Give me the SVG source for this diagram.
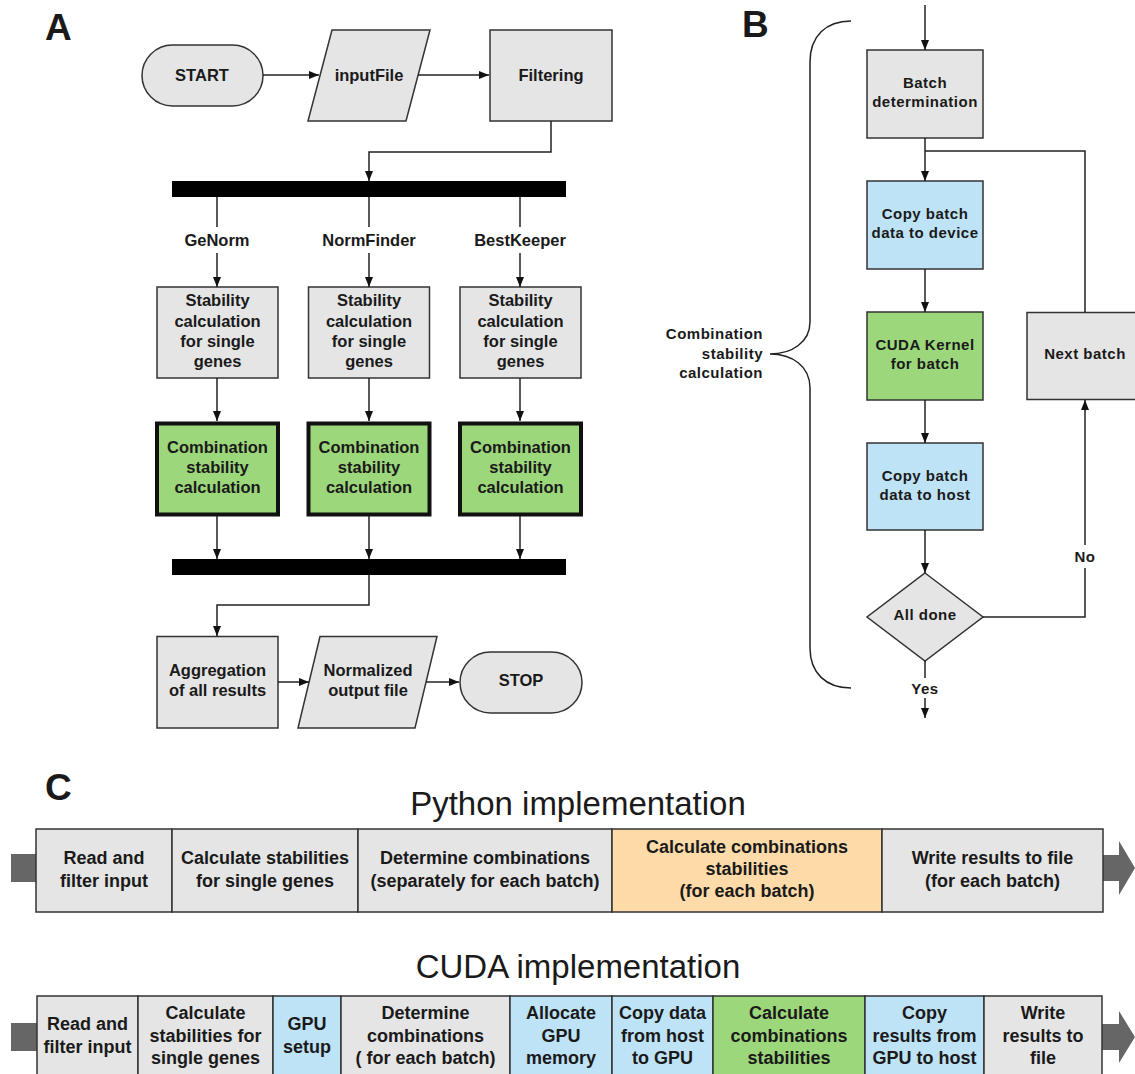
<svg xmlns="http://www.w3.org/2000/svg" width="1135" height="1074" viewBox="0 0 1135 1074">
<defs>
<marker id="ah" viewBox="0 0 10 8" refX="10" refY="4" markerWidth="10" markerHeight="8" markerUnits="userSpaceOnUse" orient="auto">
<path d="M0,0 L10,4 L0,8 z" fill="#111"/>
</marker>
<style>
text{font-family:"Liberation Sans",Arial,sans-serif;fill:#1a1a1a}
.a{font-size:16.5px;font-weight:bold;text-anchor:middle}
.b{font-size:15px;font-weight:bold;text-anchor:middle;letter-spacing:0.5px}
.c{font-size:18px;font-weight:bold;text-anchor:middle}
.big{font-size:37px;font-weight:bold}
.title{font-size:33px;text-anchor:middle}
.gray{fill:#e5e5e5;stroke:#333;stroke-width:1.5}
.blue{fill:#bfe3f6;stroke:#333;stroke-width:1.5}
.green{fill:#9dd77b;stroke:#333;stroke-width:1.5}
.orange{fill:#ffdba9;stroke:#333;stroke-width:1.5}
.thick{fill:#9dd77b;stroke:#111;stroke-width:4}
.bar{fill:#000}
.ln{fill:none;stroke:#222;stroke-width:1.5}
.arr{fill:none;stroke:#222;stroke-width:1.5;marker-end:url(#ah)}
.dk{fill:#666}
</style>
</defs>
<rect width="1135" height="1074" fill="#fff"/>

<!-- Panel labels -->
<text class="big" x="45" y="40">A</text>
<text class="big" x="742" y="37">B</text>
<text class="big" x="45" y="800">C</text>

<!-- ============ Panel A ============ -->
<g id="start"><rect class="gray" x="142" y="45" width="121" height="61" rx="30.5"/><text class="a" x="202" y="81">START</text></g>
<g id="inputFile"><polygon class="gray" points="332,30 430,30 406,121 308,121"/><text class="a" x="369" y="81">inputFile</text></g>
<g id="filtering"><rect class="gray" x="490" y="30" width="122" height="91"/><text class="a" x="551" y="81">Filtering</text></g>
<g id="fork"><rect class="bar" x="172" y="181" width="394" height="16"/></g>
<g id="label-genorm"><text class="a" x="217" y="246">GeNorm</text></g>
<g id="label-normfinder"><text class="a" x="369" y="246">NormFinder</text></g>
<g id="label-bestkeeper"><text class="a" x="520" y="246">BestKeeper</text></g>
<g id="stab1"><rect class="gray" x="157" y="287" width="121" height="91"/>
<text class="a" x="217.5" y="306">Stability</text><text class="a" x="217.5" y="326.5">calculation</text><text class="a" x="217.5" y="346.5">for single</text><text class="a" x="217.5" y="367">genes</text></g>
<g id="stab2"><rect class="gray" x="308.5" y="287" width="121" height="91"/>
<text class="a" x="369" y="306">Stability</text><text class="a" x="369" y="326.5">calculation</text><text class="a" x="369" y="346.5">for single</text><text class="a" x="369" y="367">genes</text></g>
<g id="stab3"><rect class="gray" x="460" y="287" width="121" height="91"/>
<text class="a" x="520.5" y="306">Stability</text><text class="a" x="520.5" y="326.5">calculation</text><text class="a" x="520.5" y="346.5">for single</text><text class="a" x="520.5" y="367">genes</text></g>
<g id="comb1"><rect class="thick" x="157" y="423.5" width="121" height="91"/>
<text class="a" x="217.5" y="452.5">Combination</text><text class="a" x="217.5" y="472.5">stability</text><text class="a" x="217.5" y="493">calculation</text></g>
<g id="comb2"><rect class="thick" x="308.5" y="423.5" width="121" height="91"/>
<text class="a" x="369" y="452.5">Combination</text><text class="a" x="369" y="472.5">stability</text><text class="a" x="369" y="493">calculation</text></g>
<g id="comb3"><rect class="thick" x="460" y="423.5" width="121" height="91"/>
<text class="a" x="520.5" y="452.5">Combination</text><text class="a" x="520.5" y="472.5">stability</text><text class="a" x="520.5" y="493">calculation</text></g>
<g id="join"><rect class="bar" x="172" y="559" width="394" height="16"/></g>
<g id="aggregation"><rect class="gray" x="157" y="636.5" width="121" height="91.5"/>
<text class="a" x="217.5" y="676">Aggregation</text><text class="a" x="217.5" y="696">of all results</text></g>
<g id="normalized"><polygon class="gray" points="320,636.5 437,636.5 415,728 298,728"/>
<text class="a" x="368" y="676">Normalized</text><text class="a" x="368" y="696">output file</text></g>
<g id="stop"><rect class="gray" x="460" y="652" width="122" height="61" rx="30.5"/><text class="a" x="521" y="685.5">STOP</text></g>

<!-- ============ Panel B ============ -->
<g id="brace"><path class="ln" d="M851,21 C826,21 810,36 810,62 V322 C810,342 792,354 770,354 C792,354 810,366 810,388 V648 C810,673 826,688 851,688"/>
<text class="b" style="text-anchor:end" x="763" y="339">Combination</text>
<text class="b" style="text-anchor:end" x="763" y="358.5">stability</text>
<text class="b" style="text-anchor:end" x="763" y="378">calculation</text></g>
<g id="batch"><rect class="gray" x="867" y="50" width="116" height="88"/>
<text class="b" x="925" y="88">Batch</text><text class="b" x="925" y="107">determination</text></g>
<g id="copy-device"><rect class="blue" x="867" y="181" width="116" height="88"/>
<text class="b" x="925" y="219">Copy batch</text><text class="b" x="925" y="238">data to device</text></g>
<g id="kernel"><rect class="green" x="867" y="312" width="116" height="88"/>
<text class="b" x="925" y="349.5">CUDA Kernel</text><text class="b" x="925" y="369">for batch</text></g>
<g id="copy-host"><rect class="blue" x="867" y="443" width="116" height="87"/>
<text class="b" x="925" y="480.5">Copy batch</text><text class="b" x="925" y="499.5">data to host</text></g>
<g id="alldone"><polygon class="gray" points="925,573 983,617 925,661 867,617"/>
<text class="b" x="925" y="620">All done</text></g>
<g id="nextbatch"><rect class="gray" x="1027" y="312.5" width="120" height="87"/>
<text class="b" x="1085" y="359">Next batch</text></g>

<!-- ============ Panel C ============ -->
<text class="title" x="578" y="815">Python implementation</text>
<text class="title" x="578" y="978">CUDA implementation</text>

<g id="py-ends"><rect class="dk" x="11" y="854" width="25" height="28"/>
<path class="dk" d="M1103,855 H1119 V841 L1135,868 L1119,895 V881 H1103 z"/></g>
<g id="py1"><rect class="gray" x="36" y="829" width="136" height="83"/>
<text class="c" x="104" y="863.5">Read and</text><text class="c" x="104" y="886.5">filter input</text></g>
<g id="py2"><rect class="gray" x="172" y="829" width="186" height="83"/>
<text class="c" x="265" y="863.5">Calculate stabilities</text><text class="c" x="265" y="886.5">for single genes</text></g>
<g id="py3"><rect class="gray" x="358" y="829" width="254" height="83"/>
<text class="c" x="485" y="863.5">Determine combinations</text><text class="c" x="485" y="886.5">(separately for each batch)</text></g>
<g id="py4"><rect class="orange" x="612" y="829" width="270" height="83"/>
<text class="c" x="747" y="852.5">Calculate combinations</text><text class="c" x="747" y="874.5">stabilities</text><text class="c" x="747" y="897">(for each batch)</text></g>
<g id="py5"><rect class="gray" x="882" y="829" width="221" height="83"/>
<text class="c" x="992.5" y="863.5">Write results to file</text><text class="c" x="992.5" y="886.5">(for each batch)</text></g>

<g id="cu-ends"><rect class="dk" x="11" y="1023" width="26" height="28"/>
<path class="dk" d="M1102,1024 H1119 V1011 L1135,1037 L1119,1063 V1050 H1102 z"/></g>
<g id="cu1"><rect class="gray" x="37" y="996" width="101" height="84"/>
<text class="c" x="87.5" y="1029.5">Read and</text><text class="c" x="87.5" y="1052.5">filter input</text></g>
<g id="cu2"><rect class="gray" x="138" y="996" width="135" height="84"/>
<text class="c" x="205.5" y="1018.5">Calculate</text><text class="c" x="205.5" y="1041.5">stabilities for</text><text class="c" x="205.5" y="1064">single genes</text></g>
<g id="cu3"><rect class="blue" x="273" y="996" width="68" height="84"/>
<text class="c" x="307" y="1029.5">GPU</text><text class="c" x="307" y="1052.5">setup</text></g>
<g id="cu4"><rect class="gray" x="341" y="996" width="169" height="84"/>
<text class="c" x="425.5" y="1018.5">Determine</text><text class="c" x="425.5" y="1041.5">combinations</text><text class="c" x="425.5" y="1064">( for each batch)</text></g>
<g id="cu5"><rect class="blue" x="510" y="996" width="102" height="84"/>
<text class="c" x="561" y="1018.5">Allocate</text><text class="c" x="561" y="1041.5">GPU</text><text class="c" x="561" y="1064">memory</text></g>
<g id="cu6"><rect class="blue" x="612" y="996" width="101" height="84"/>
<text class="c" x="662.5" y="1018.5">Copy data</text><text class="c" x="662.5" y="1041.5">from host</text><text class="c" x="662.5" y="1064">to GPU</text></g>
<g id="cu7"><rect class="green" x="713" y="996" width="152" height="84"/>
<text class="c" x="789" y="1018.5">Calculate</text><text class="c" x="789" y="1041.5">combinations</text><text class="c" x="789" y="1064">stabilities</text></g>
<g id="cu8"><rect class="blue" x="865" y="996" width="119" height="84"/>
<text class="c" x="924.5" y="1018.5">Copy</text><text class="c" x="924.5" y="1041.5">results from</text><text class="c" x="924.5" y="1064">GPU to host</text></g>
<g id="cu9"><rect class="gray" x="984" y="996" width="118" height="84"/>
<text class="c" x="1043" y="1018.5">Write</text><text class="c" x="1043" y="1041.5">results to</text><text class="c" x="1043" y="1064">file</text></g>

<!-- ============ Connectors ============ -->
<g id="connectors">
<path class="arr" d="M263,75 H319"/>
<path class="arr" d="M418,75 H489"/>
<path class="arr" d="M551,121 V152 H369 V181"/>
<path class="ln" d="M217,197 V227"/><path class="arr" d="M217,253 V287"/>
<path class="ln" d="M369,197 V227"/><path class="arr" d="M369,253 V287"/>
<path class="ln" d="M520,197 V227"/><path class="arr" d="M520,253 V287"/>
<path class="arr" d="M217,378 V421"/>
<path class="arr" d="M369,378 V421"/>
<path class="arr" d="M520,378 V421"/>
<path class="arr" d="M217,516 V559"/>
<path class="arr" d="M369,516 V559"/>
<path class="arr" d="M520,516 V559"/>
<path class="arr" d="M369,575 V605 H217 V636"/>
<path class="arr" d="M278,682 H309"/>
<path class="arr" d="M426,682 H459"/>

<path class="arr" d="M925,5 V50"/>
<path class="arr" d="M925,138 V181"/>
<path class="ln" d="M1085,312 V151 H925"/>
<path class="arr" d="M925,269 V312"/>
<path class="arr" d="M925,400 V443"/>
<path class="arr" d="M925,530 V573"/>
<path class="ln" d="M983,617 H1085 V568"/><path class="arr" d="M1085,545 V400"/>
<text class="b" x="1085" y="561.5">No</text>
<path class="ln" d="M925,661 V678"/><path class="arr" d="M925,698 V718"/>
<text class="b" x="925" y="693.5">Yes</text>
</g>
</svg>
